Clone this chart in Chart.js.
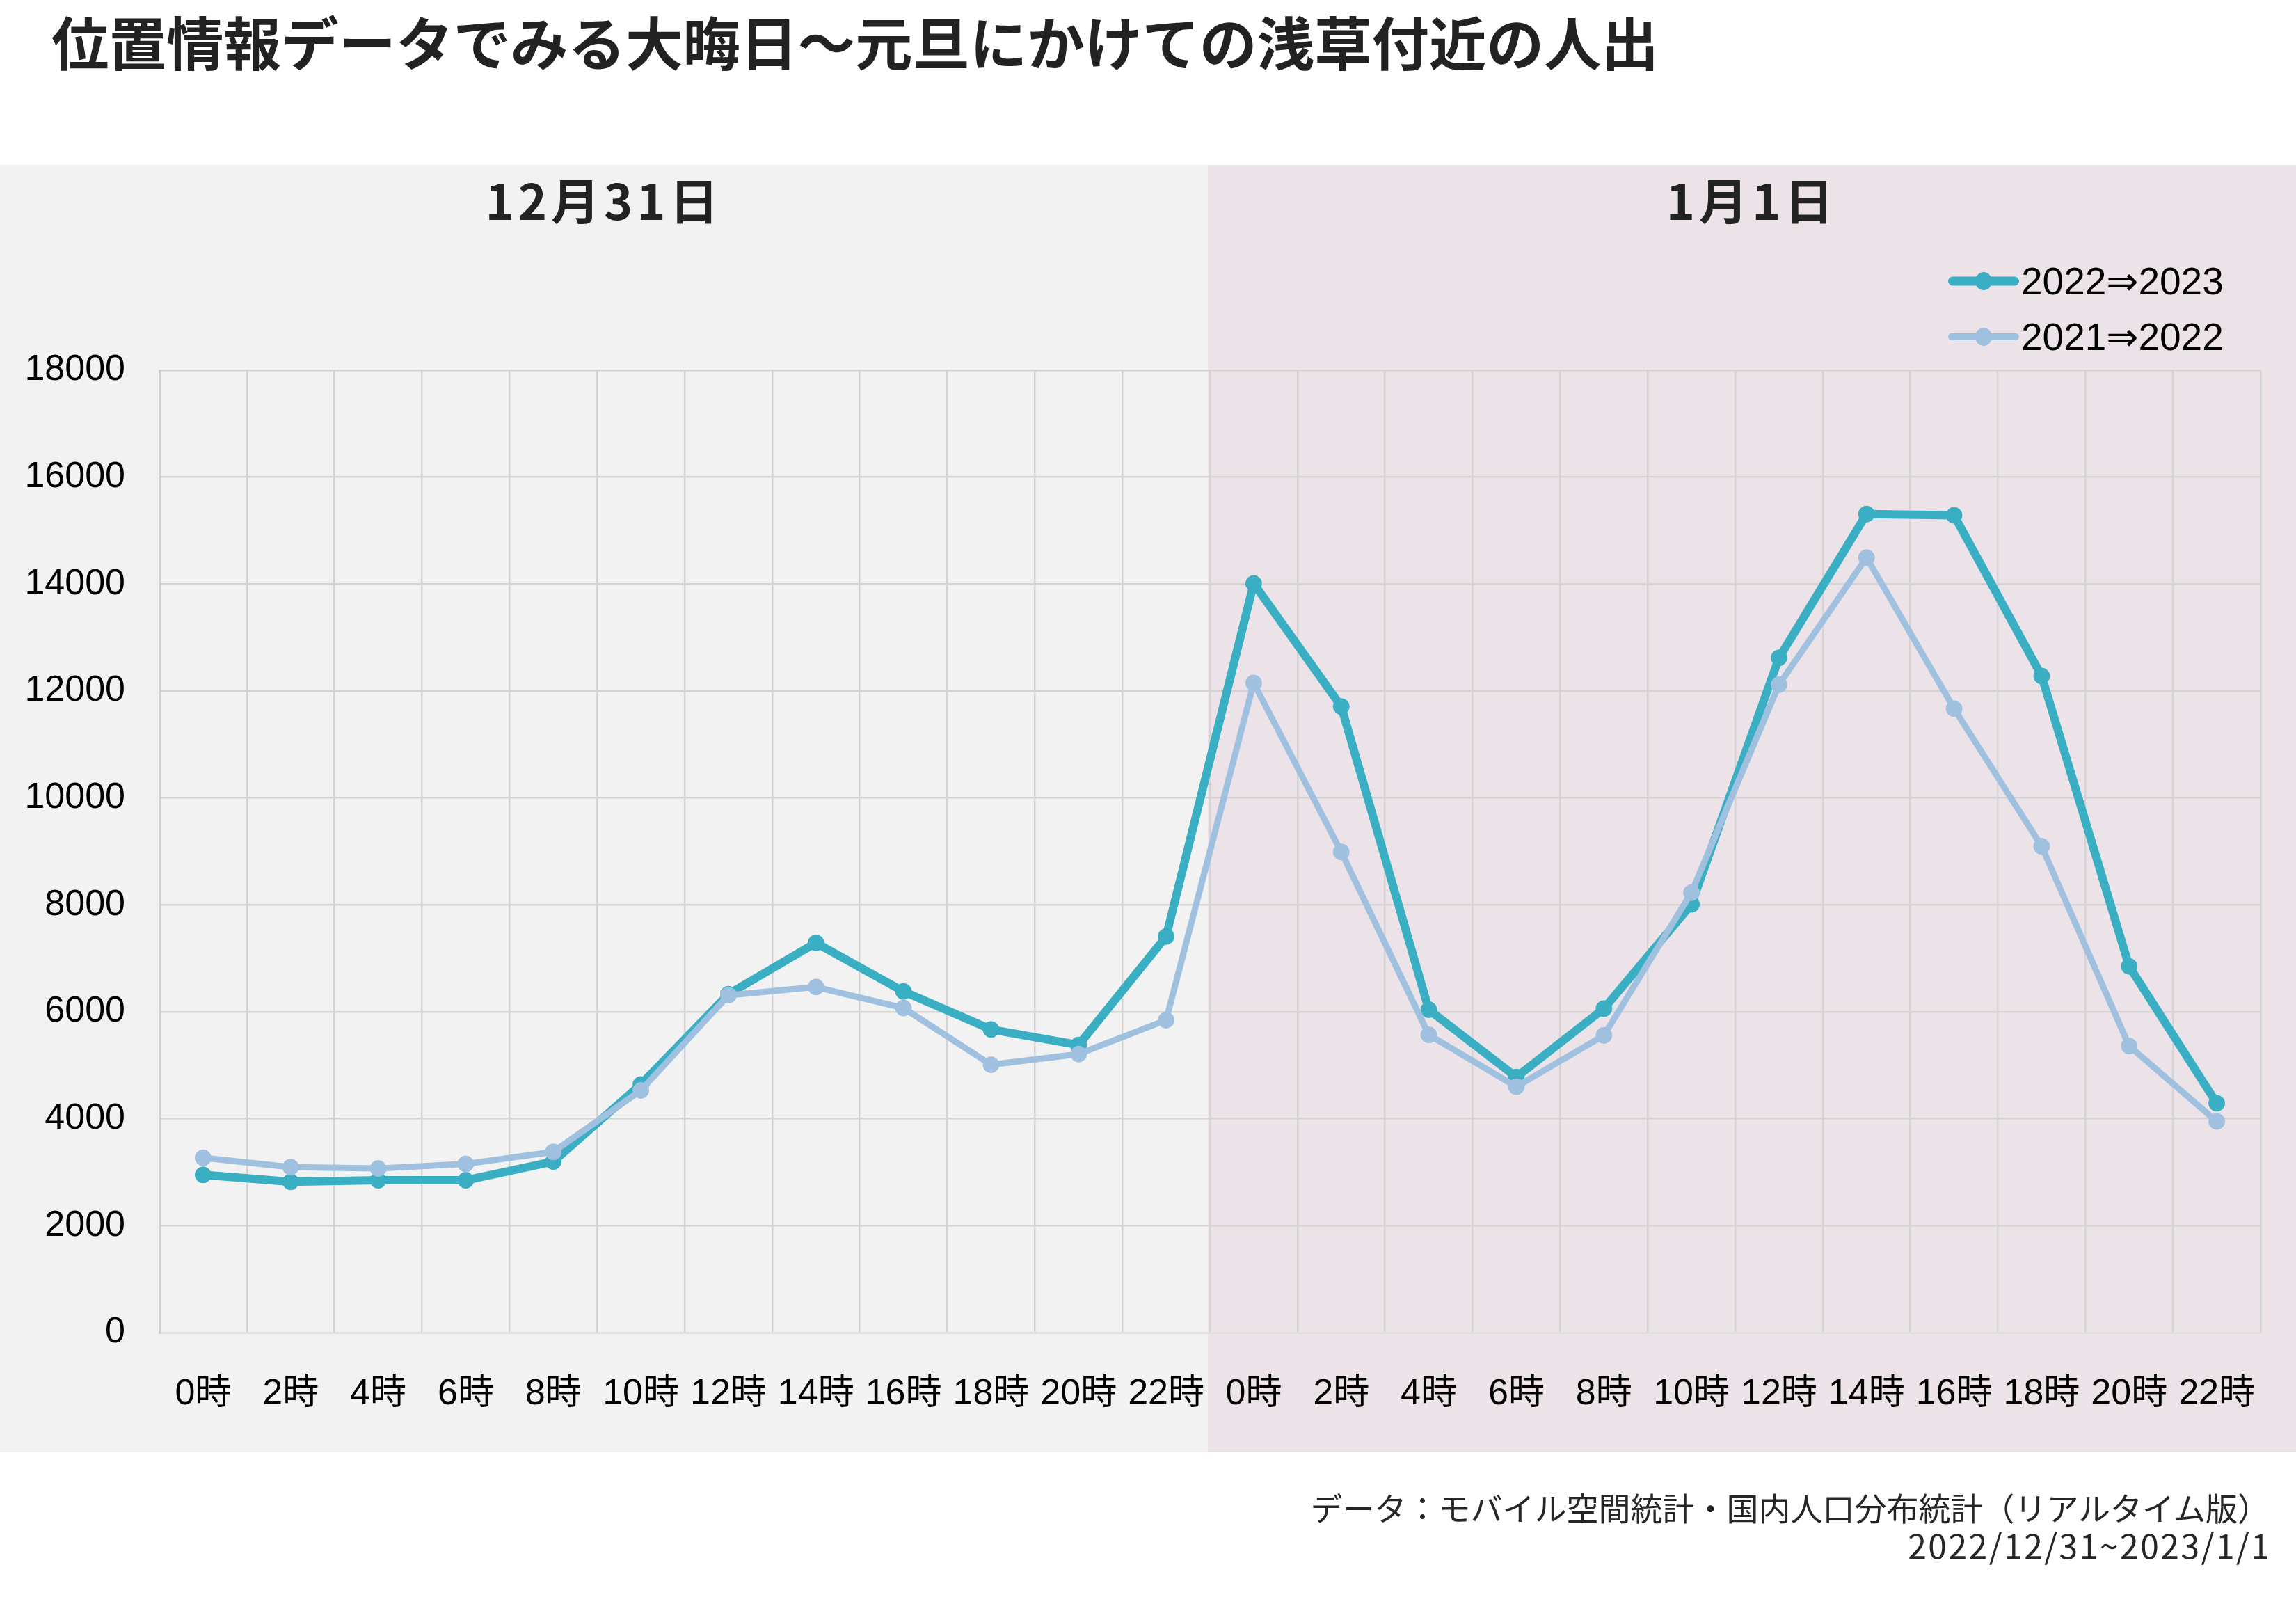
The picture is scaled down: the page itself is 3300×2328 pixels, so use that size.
<!DOCTYPE html>
<html lang="ja">
<head>
<meta charset="utf-8">
<script src="https://cdn.jsdelivr.net/npm/chart.js@4.4.1/dist/chart.umd.min.js"></script>
<style>
html,body{margin:0;padding:0;background:#ffffff;}
#wrap{position:relative;width:3300px;height:2328px;overflow:hidden;font-family:"Noto Sans CJK JP",sans-serif;}
#c{position:absolute;left:0;top:0;}
.title{position:absolute;left:74px;top:17px;font-size:82.5px;font-weight:700;color:#222222;line-height:1;white-space:nowrap;}
.day{position:absolute;top:251px;font-size:70px;font-weight:700;color:#222222;line-height:1;white-space:nowrap;letter-spacing:6px;transform:translateX(-50%);}
.lrow{position:absolute;left:2800px;height:70px;display:flex;align-items:center;}
.lmark{position:relative;width:102px;height:70px;}
.lline{position:absolute;left:0;right:0;top:50%;transform:translateY(-50%);border-radius:8px;}
.ldot{position:absolute;left:50%;top:50%;width:24px;height:26px;border-radius:50%;transform:translate(-50%,-50%);}
.ltext{font-family:"Liberation Sans","DejaVu Sans",sans-serif;font-size:55px;color:#000;line-height:70px;margin-left:3px;white-space:nowrap;}
.foot{position:absolute;right:38px;text-align:right;color:#262626;line-height:1;white-space:nowrap;}
.f1{top:2142px;font-size:46px;}
.f2{top:2195px;font-size:48px;letter-spacing:2.5px;margin-right:-2.5px;}
</style>
</head>
<body>
<div id="wrap">
  <canvas id="c" width="3300" height="2328"></canvas>
  <div class="title">位置情報データでみる大晦日〜元旦にかけての浅草付近の人出</div>
  <div class="day" id="day1">12月31日</div>
  <div class="day" id="day2">1月1日</div>
  <div id="legend"></div>
  <div class="foot f1">データ：モバイル空間統計・国内人口分布統計（リアルタイム版）</div>
  <div class="foot f2">2022/12/31~2023/1/1</div>
</div>
<script>
// ---- data ----
const hourLabels = ['0時','2時','4時','6時','8時','10時','12時','14時','16時','18時','20時','22時'];
const categories = [...hourLabels, ...hourLabels];
const dayLabels = ['12月31日', '1月1日'];
const seriesNames = ['2022⇒2023', '2021⇒2022'];
const values20222023 = [2950, 2820, 2850, 2850, 3200, 4640, 6330, 7290, 6380, 5670, 5380, 7410,
                        14010, 11710, 6040, 4780, 6060, 8010, 12620, 15310, 15285, 12280, 6850, 4290];
const values20212022 = [3270, 3095, 3070, 3155, 3380, 4530, 6310, 6465, 6070, 5010, 5210, 5845,
                        12150, 8990, 5570, 4600, 5560, 8230, 12120, 14495, 11670, 9095, 5360, 3950];
const yTickValues = [0, 2000, 4000, 6000, 8000, 10000, 12000, 14000, 16000, 18000];

// ---- style ----
const colors = ['#3AAEC3', '#9FC0DF'];
const lineWidths = [12, 9];
const tickFont = '"Liberation Sans", "Noto Sans CJK JP", sans-serif';
const gridColor = '#d3d3d3';
const panelTop = 237, panelBottom = 2087;
let boundaryX = 1736;

const panelPlugin = {
  id: 'panels',
  beforeDraw(chart) {
    const x = chart.scales.x;
    boundaryX = (x.getPixelForValue(11) + x.getPixelForValue(12)) / 2 - 3;
    const ctx = chart.ctx;
    ctx.save();
    ctx.fillStyle = '#f2f2f2';
    ctx.fillRect(0, panelTop, boundaryX, panelBottom - panelTop);
    ctx.fillStyle = '#ece3e8';
    ctx.fillRect(boundaryX, panelTop, chart.width - boundaryX, panelBottom - panelTop);
    ctx.restore();
  }
};

const chart = new Chart(document.getElementById('c'), {
  type: 'line',
  data: {
    labels: categories,
    datasets: [
      {
        label: seriesNames[0], data: values20222023, order: 2,
        borderColor: colors[0], backgroundColor: colors[0],
        borderWidth: lineWidths[0], pointRadius: 11.5, pointBorderWidth: 1,
        pointBackgroundColor: colors[0], pointBorderColor: colors[0],
        tension: 0, fill: false, borderJoinStyle: 'round', borderCapStyle: 'round'
      },
      {
        label: seriesNames[1], data: values20212022, order: 1,
        borderColor: colors[1], backgroundColor: colors[1],
        borderWidth: lineWidths[1], pointRadius: 11.5, pointBorderWidth: 1,
        pointBackgroundColor: colors[1], pointBorderColor: colors[1],
        tension: 0, fill: false, borderJoinStyle: 'round', borderCapStyle: 'round'
      }
    ]
  },
  options: {
    responsive: false,
    animation: false,
    devicePixelRatio: 1,
    layout: { padding: { top: 532, right: 51, bottom: 0, left: 0 } },
    plugins: { legend: { display: false }, tooltip: { enabled: false }, title: { display: false } },
    scales: {
      x: {
        type: 'category',
        offset: true,
        grid: { offset: true, color: gridColor, lineWidth: 2.5, drawTicks: false },
        border: { color: '#dedede', width: 3 },
        ticks: {
          autoSkip: false, maxRotation: 0, minRotation: 0,
          color: '#000', padding: 57,
          font: { family: tickFont, size: 52 }
        },
        afterFit(scale) { scale.height = 413; }
      },
      y: {
        min: 0, max: 18000,
        afterBuildTicks(scale) { scale.ticks = yTickValues.map(v => ({ value: v })); },
        grid: { color: gridColor, lineWidth: 2.5, drawTicks: false },
        border: { color: '#cfcfcf', width: 3 },
        ticks: {
          color: '#000', padding: 49,
          font: { family: tickFont, size: 52 },
          callback: v => String(v)
        },
        afterFit(scale) { scale.width = 229; }
      }
    }
  },
  plugins: [panelPlugin]
});

// day headers centred in their panels
document.getElementById('day1').style.left = (boundaryX / 2) + 'px';
document.getElementById('day2').style.left = ((boundaryX + 3300) / 2) + 'px';

// legend built from chart datasets
const legendEl = document.getElementById('legend');
const rowCenters = [404, 484];
chart.data.datasets.forEach((ds, i) => {
  const row = document.createElement('div');
  row.className = 'lrow';
  row.style.top = (rowCenters[i] - 35) + 'px';
  const mark = document.createElement('div');
  mark.className = 'lmark';
  const line = document.createElement('div');
  line.className = 'lline';
  line.style.height = (i === 0 ? 13 : 10) + 'px';
  line.style.background = ds.borderColor;
  const dot = document.createElement('div');
  dot.className = 'ldot';
  dot.style.background = ds.borderColor;
  mark.appendChild(line); mark.appendChild(dot);
  const txt = document.createElement('span');
  txt.className = 'ltext';
  txt.textContent = ds.label;
  row.appendChild(mark); row.appendChild(txt);
  legendEl.appendChild(row);
});
</script>
</body>
</html>
